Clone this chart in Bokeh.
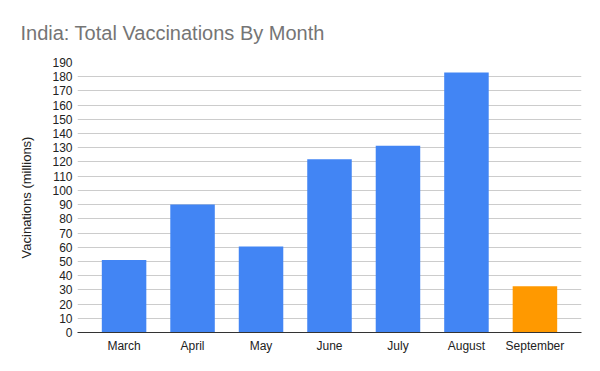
from bokeh.plotting import figure
from bokeh.models import FactorRange, Range1d, ColumnDataSource, FixedTicker
from bokeh.embed import file_html
from bokeh.resources import INLINE

months = ["March", "April", "May", "June", "July", "August", "September"]
vaccinations = [51, 90, 60.5, 122, 131.5, 183, 32.5]
colors = ["#4285F4", "#4285F4", "#4285F4", "#4285F4", "#4285F4", "#4285F4", "#FF9900"]
y_ticks = list(range(0, 191, 10))

source = ColumnDataSource(dict(month=months, value=vaccinations, color=colors))

p = figure(
    width=592, height=363,
    x_range=FactorRange(factors=months, range_padding=0.18, range_padding_units="absolute"),
    y_range=Range1d(0, 190),
    output_backend="svg", toolbar_location=None,
    min_border_left=77, min_border_right=11, min_border_top=61, min_border_bottom=31,
)
p.outline_line_color = None
p.background_fill_color = "white"
p.border_fill_color = "white"

p.vbar(x="month", top="value", width=0.65, color="color", source=source, line_color=None)

p.title.text = "India: Total Vaccinations By Month"
p.title.text_font = "Liberation Sans"
p.title.text_font_size = "20px"
p.title.text_font_style = "normal"
p.title.text_color = "#757575"
p.title.align = "left"
p.title.offset = -57
p.title.standoff = 38

p.yaxis.ticker = FixedTicker(ticks=y_ticks)
p.yaxis.axis_label = "Vacinations (millions)"
p.yaxis.axis_label_text_font = "Liberation Sans"
p.yaxis.axis_label_text_font_size = "13px"
p.yaxis.axis_label_text_font_style = "normal"
p.yaxis.axis_label_text_color = "#222222"
p.yaxis.axis_label_standoff = 15
p.yaxis.axis_line_color = None
p.yaxis.major_tick_line_color = None
p.yaxis.minor_tick_line_color = None
p.yaxis.major_tick_out = 0
p.yaxis.major_label_standoff = 5
p.yaxis.major_label_text_font = "Liberation Sans"
p.yaxis.major_label_text_font_size = "12px"
p.yaxis.major_label_text_color = "#222222"

p.xaxis.axis_line_color = "#333333"
p.xaxis.axis_line_width = 1
p.xaxis.major_tick_line_color = None
p.xaxis.minor_tick_line_color = None
p.xaxis.major_tick_out = 0
p.xaxis.major_label_standoff = 6
p.xaxis.major_label_text_font = "Liberation Sans"
p.xaxis.major_label_text_font_size = "12px"
p.xaxis.major_label_text_color = "#222222"

p.xgrid.grid_line_color = None
p.ygrid.grid_line_color = "#cccccc"
p.ygrid.grid_line_width = 1

open("out.html", "w").write(file_html(p, INLINE))
